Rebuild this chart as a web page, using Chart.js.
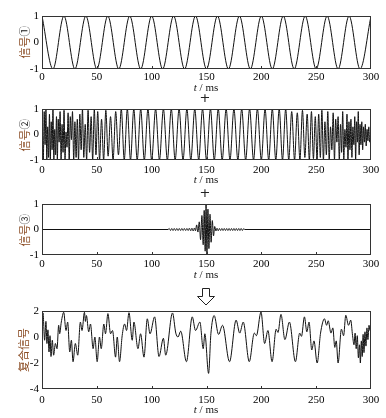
<!DOCTYPE html>
<html>
<head>
<meta charset="utf-8">
<script src="https://cdn.jsdelivr.net/npm/chart.js@4/dist/chart.umd.min.js"></script>
<style>
body{margin:0;background:#fff;}
#wrap{position:relative;width:386px;height:418px;overflow:hidden;background:#fff;}
canvas{position:absolute;left:0;}
.lbl{position:absolute;font:11px "Liberation Serif",serif;color:#111;white-space:nowrap;transform:translate(-50%,-50%);}
.plus{position:absolute;font:13px "DejaVu Sans",sans-serif;color:#222;transform:translate(-50%,-50%);}
.ylab{position:absolute;font:11px "Noto Sans CJK SC",sans-serif;color:#111;white-space:nowrap;transform:translate(-50%,-50%) rotate(-90deg);}
.ylab span{color:#8a4b22;}
</style>
</head>
<body>
<div id="wrap">
  <canvas id="c1" width="386" height="95" style="top:0px"></canvas>
  <canvas id="c2" width="386" height="95" style="top:95px"></canvas>
  <canvas id="c3" width="386" height="90" style="top:190px"></canvas>
  <canvas id="c4" width="386" height="128" style="top:290px"></canvas>

  <div class="ylab" style="left:24px;top:42px"><span>信号</span>①</div>
  <div class="ylab" style="left:24px;top:135px"><span>信号</span>②</div>
  <div class="ylab" style="left:24px;top:230px"><span>信号</span>③</div>
  <div class="ylab" style="left:23px;top:350px"><span>复合信号</span></div>

  <div class="lbl" style="left:206px;top:87px"><i>t</i> / ms</div>
  <div class="lbl" style="left:206px;top:179px"><i>t</i> / ms</div>
  <div class="lbl" style="left:206px;top:274px"><i>t</i> / ms</div>
  <div class="lbl" style="left:206px;top:409px"><i>t</i> / ms</div>

  <div class="plus" style="left:205px;top:97px">+</div>
  <div class="plus" style="left:205px;top:192px">+</div>
  <svg style="position:absolute;left:196px;top:287px" width="20" height="20">
    <polygon points="6.5,1.5 13.5,1.5 13.5,9.5 18.5,9.5 10,18 1.5,9.5 6.5,9.5" fill="#fff" stroke="#222" stroke-width="1"/>
  </svg>
</div>
<script>
// axis ticks
const xTicks = [0, 50, 100, 150, 200, 250, 300];
const yTicksSig = [-1, 0, 1];
const yTicksSum = [-4, -2, 0, 2];

// signal 1: peaks / troughs [t ms, value]
const sig1 = [[0,1],[10,-1],[20,1],[30,-1],[40,1],[50,-1],[60,1],[70,-1],[80,1],[90,-1],
  [100,1],[110,-1],[120,1],[130,-1],[140,1],[150,-1],[160,1],[170,-1],[180,1],[190,-1],
  [200,1],[210,-1],[220,1],[230,-1],[240,1],[250,-1],[260,1],[270,-1],[280,1],[290,-1],[300,1]];

// signal 2: chirp, dense at both ends
const sig2 = [[0,1],[1.2,-1],[2,0.9],[2.8,-0.4],[3.6,1],[4.4,-1],[5.2,0.3],[6,-0.9],[6.8,0.8],[7.6,-1],
  [8.4,0.5],[9.2,-0.6],[10,1],[10.8,-1],[11.6,0.2],[12.4,-0.8],[13.2,0.7],[14,-1],[14.8,0.6],[15.6,-0.3],
  [16.5,0.9],[17.4,-1],[18.3,0.4],[19.2,-0.7],[20.1,0.95],[21,-1],[21.9,0.1],[22.8,-0.5],[23.8,0.85],[24.8,-1],
  [25.8,0.7],[26.8,-0.2],[27.8,0.9],[28.9,-1],[30,0.5],[31.1,-0.9],[32.2,0.6],[33.3,-1],[34.5,0.8],[35.7,-0.6],
  [36.9,1],[38.1,-0.9],[39.4,0.4],[40.7,-1],[42,0.95],[43.4,-0.7],[44.8,0.7],[46.2,-1],[47.7,1],[49.2,-0.8],
  [50.8,0.9],[52.5,-1],[54.3,0.6],[56.2,-1],[58.2,0.95],[60.3,-0.85],[62.5,0.7],[64.8,-1],[67.2,0.9],[69.7,-0.8],
  [72.3,1],[75,-1],[77.8,1],[80.7,-1],[83.7,1],[86.8,-1],[90,1],[93.3,-1],[96.6,1],[100,-1],
  [103.6,1],[107.1,-1],[110.7,1],[114.3,-1],[117.9,1],[121.4,-1],[125,1],[128.6,-1],[132.1,1],[135.7,-1],
  [139.3,1],[142.9,-1],[146.4,1],[150,-1],[153.6,1],[157.1,-1],[160.7,1],[164.3,-1],[167.9,1],[171.4,-1],
  [175,1],[178.6,-1],[182.1,1],[185.7,-1],[189.3,1],[192.9,-1],[196.4,1],[200,-1],[203.4,1],[206.7,-1],
  [210,1],[213.2,-1],[216.3,1],[219.3,-1],[222.2,1],[225,-1],[227.7,0.9],[230.3,-1],[232.8,0.85],[235.2,-1],
  [237.5,0.95],[239.7,-0.9],[241.8,0.8],[243.8,-1],[245.7,0.9],[247.5,-0.95],[249.2,0.7],
  [250.8,-1],[252.3,0.8],[253.8,-0.9],[255.2,0.95],[256.6,-1],[258,0.5],[259.3,-0.8],[260.6,0.9],[261.9,-1],
  [263.1,0.3],[264.3,-0.6],[265.5,0.85],[266.7,-1],[267.8,0.6],[268.9,-0.3],[270,0.7],[271.1,-1],[272.2,0.4],
  [273.2,-0.7],[274.2,0.9],[275.2,-1],[276.2,0.2],[277.2,-0.5],[278.1,0.8],[279,-1],[279.9,0.5],[280.8,-0.6],
  [281.7,0.6],[282.6,-0.9],[283.5,0.3],[284.4,-0.4],[285.2,0.7],[286,-1],[286.8,0.5],[287.6,-0.3],[288.4,0.9],
  [289.2,-0.8],[290,0.4],[290.8,-0.4],[291.6,0.5],[292.4,-0.6],[293.2,0.3],[294,-0.3],[294.8,0.4],[295.6,-0.45],
  [296.4,0.2],[297.2,-0.25],[298,0.3],[298.8,-0.3],[300,0.1]];

// signal 3: short burst around 150 ms with small ripple
const sig3 = [[0,0],[115,0],[116,0.04],[117.2,-0.04],[118.3,0.04],[119.5,-0.04],[120.6,0.04],[121.8,-0.04],
  [122.9,0.04],[124.1,-0.04],[125.2,0.04],[126.4,-0.04],[127.5,0.04],[128.7,-0.04],[129.8,0.04],[131,-0.04],
  [132.1,0.04],[133.3,-0.04],[134.4,0.05],[135.6,-0.05],[136.7,0.05],[137.9,-0.06],[139,0.06],[140,-0.05],
  [141,0.18],[142.2,-0.1],[143.4,0.3],[144.6,-0.4],[145.8,0.55],[147,-0.6],[147.9,0.75],[148.8,-0.85],
  [149.6,1],[150.4,-1],[151.3,0.8],[152.2,-0.75],[153.2,0.6],[154.2,-0.5],[155.3,0.35],[156.4,-0.25],
  [157.5,0.12],[158.6,-0.06],[159.6,0.05],[160.7,-0.05],[161.8,0.04],[162.9,-0.04],[164,0.04],[165.1,-0.04],
  [166.2,0.04],[167.3,-0.04],[168.4,0.04],[169.5,-0.04],[170.6,0.04],[171.7,-0.04],[172.8,0.04],[173.9,-0.04],
  [175,0.04],[176.1,-0.04],[177.2,0.04],[178.3,-0.04],[179.4,0.04],[180.5,-0.04],[181.6,0.04],[182.7,-0.04],
  [183.8,0.03],[185,0],[300,0]];

// composite signal
const sigSum = [[0,1.0],[0.9,1.85],[2.4,-0.25],[3.6,1.2],[4.5,-0.5],[5.4,0.55],[6.4,-1.15],[7.3,0.1],[8.2,-1.5],
  [9.4,-0.25],[10.6,-1.4],[12.2,-0.5],[13.7,-0.9],[15.2,0.9],[16.1,0.25],[17.6,1.15],[19.8,1.9],[21.9,0.5],
  [23.4,1.15],[25.3,-1.15],[26.8,-0.25],[28.3,-1.9],[30.4,-0.5],[32.6,-1.4],[35,1.15],[36.5,0.5],[38.7,1.9],
  [39.6,1.2],[40.5,1.65],[42.6,0.4],[44.2,1.0],[46.6,-0.9],[48.2,0],[50.3,-1.9],[52.4,0],[54,-0.9],[56.4,1.0],
  [57.9,0.25],[60.1,1.8],[62.5,0.25],[64.3,0.5],[67.1,-1.55],[68.6,0],[70.7,-1.9],[73.1,0.1],[75.3,1.0],
  [77.1,0.5],[79.3,1.87],[82.3,-0.25],[83.8,1.15],[87.5,-0.9],[89.9,0.25],[93,-1.55],[96,1.4],[98.5,0.25],
  [102.7,1.55],[106.7,-1.5],[110.7,-0.1],[112.8,-1.4],[119,1.85],[122,0.3],[124,0.0],[126.5,0.45],[131.7,-1.9],
  [137,1.55],[140,0.5],[144,1.15],[147,-0.9],[148.5,0.25],[151.9,-2.8],[154,0.25],[157,1.65],[161,0.2],
  [164.6,0.9],[171,-1.9],[177,1.3],[180.3,0.3],[183.5,1.15],[189,-1.9],[193.6,0.3],[195.5,0.1],[199.7,1.92],
  [203,-0.5],[206,0.5],[209.8,-1.9],[213.5,0.6],[215.2,0.35],[217.9,1.74],[221.5,-0.2],[225.6,1.15],[231.1,-1.9],
  [235,0.3],[236.6,0.05],[239.3,1.55],[241.5,0.4],[243.5,1.15],[246,-1.0],[248,-0.3],[250.9,-2.0],[254,0.3],
  [257.6,1.4],[259.5,0.9],[261,1.25],[263.5,0.3],[265.2,0.7],[267,-0.8],[268.3,-0.3],[270,-2.0],[273,0.6],
  [275,0.1],[277,1.67],[279.5,0.9],[281.5,1.3],[283.2,0.1],[284.5,-0.6],[285.5,0.3],[286.5,-0.9],[287.5,0.1],
  [288.5,-1.6],[289.5,-0.6],[290.3,-2.0],[291.2,-0.3],[292,-1.5],[292.8,0.2],[293.6,-1.2],[294.5,0.4],
  [295.4,-0.7],[296.3,0.7],[297.2,-0.2],[298.2,0.9],[299.1,0.5],[300,1.0]];

const tickFont = {family: 'Liberation Serif', size: 11};

//box round the plot area and small inward ticks on the time axis
const frame = {
  id: 'frame',
  afterDatasetsDraw(chart) {
    const {ctx, chartArea: a, scales} = chart;
    ctx.save();
    ctx.strokeStyle = '#333';
    ctx.lineWidth = 1;
    ctx.strokeRect(a.left + 0.5, a.top + 0.5, a.width - 1, a.height - 1);
    xTicks.slice(1, -1).forEach(v => {
      const x = Math.round(scales.x.getPixelForValue(v)) + 0.5;
      ctx.beginPath();
      ctx.moveTo(x, a.bottom);
      ctx.lineTo(x, a.bottom - 3);
      ctx.stroke();
    });
    ctx.restore();
  }
};

const makePlot = (id, pts, yMin, yMax, yTicks, top, xh, pad)=>{
  return new Chart(document.getElementById(id), {
    type: 'line',
    data: {
      datasets: [{
        data: pts.map(p => ({x: p[0], y: p[1]})),
        borderColor: '#111',
        borderWidth: 1,
        pointRadius: 0,
        fill: false,
        cubicInterpolationMode: 'monotone'
      }]
    },
    options: {
      responsive: false,
      animation: false,
      devicePixelRatio: 1,
      layout: {padding: {top: top, right: 15, bottom: 0, left: 0}},
      plugins: {legend: {display: false}, tooltip: {enabled: false}},
      scales: {
        x: {
          type: 'linear', min: 0, max: 300,
          grid: {display: false, drawTicks: false}, border: {display: false},
          afterBuildTicks: s => { s.ticks = xTicks.map(v => ({value: v})); },
          afterFit: s => { s.height = xh; },
          ticks: {padding: pad, color: '#000', font: tickFont, maxRotation: 0, autoSkip: false}
        },
        y: {
          min: yMin, max: yMax,
          grid: {display: false, drawTicks: false}, border: {display: false},
          afterBuildTicks: s => { s.ticks = yTicks.map(v => ({value: v})); },
          afterFit: s => { s.width = 42; },
          ticks: {padding: 3, color: '#000', font: tickFont}
        }
      }
    },
    plugins: [frame]
  });
}

makePlot('c1', sig1, -1, 1, yTicksSig, 16, 26, 2);
makePlot('c2', sig2, -1, 1, yTicksSig, 14, 30, 3.5);
makePlot('c3', sig3, -1, 1, yTicksSig, 14, 25, 3);
makePlot('c4', sigSum, -4, 2, yTicksSum, 21, 29, 4.5);
</script>
</body>
</html>
